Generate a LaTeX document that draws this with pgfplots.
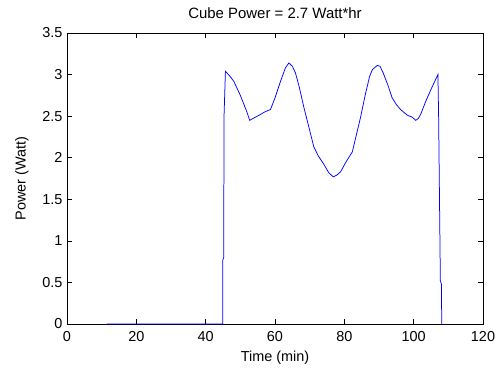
\documentclass[border=0pt]{standalone}
\usepackage{fontspec}
\setmainfont{Liberation Sans}
\usepackage{pgfplots}
\usetikzlibrary{calc}
\pgfplotsset{compat=1.18}
\begin{document}
\begin{tikzpicture}
\begin{axis}[name=ax,
  scale only axis, width=416bp, height=291bp,
  xmin=0, xmax=120, ymin=0, ymax=3.5,
  xtick={0,20,...,120}, ytick={0,0.5,...,3.5},
  tick align=inside, major tick length=5bp,
  tick style={black, line width=0.6pt},
  axis line style={black, line width=0.6pt},
  /pgf/number format/assume math mode=true,
  tick label style={font=\fontsize{14.5}{17}\selectfont},
  label style={font=\fontsize{14.5}{17}\selectfont},
  title style={font=\fontsize{15}{17}\selectfont, at={(rel axis cs:0.5,1)}, anchor=center, yshift=14bp},
  title={Cube Power = 2.7 Watt*hr},
  xlabel={Time (min)}, ylabel={Power (Watt)},
  xticklabel style={yshift=-4bp},
  yticklabel style={xshift=-1bp},
  xlabel style={at={(rel axis cs:0.5,0)}, anchor=center, yshift=-34bp},
  ylabel style={at={($(rel axis cs:0,0.5)+(-45bp,0)$)}, anchor=center},
]
\addplot[blue, line width=0.75pt, mark=none] coordinates {
(11.5,0) (44.9,0) (44.95,0.77) (45.2,0.8) (45.3,2.5) (45.7,3.04) (47,2.98) (48.1,2.92) (50,2.75) (51.9,2.55) (52.7,2.45) (54,2.48) (55.8,2.52) (57,2.55) (58.7,2.58) (60,2.72) (61.6,2.92) (63,3.08) (64,3.14) (65,3.1) (65.9,3.02) (67,2.85) (68.3,2.61) (69.7,2.38) (71.2,2.13) (72.5,2.02) (74.1,1.92) (75.5,1.82) (76.8,1.77) (77.8,1.79) (78.9,1.83) (80.5,1.95) (82.3,2.07) (83.5,2.28) (84.7,2.49) (86,2.75) (87.3,2.98) (88.1,3.06) (89.5,3.11) (90.3,3.1) (91.2,3.02) (92.5,2.88) (93.8,2.72) (95,2.64) (96.2,2.58) (98.2,2.51) (99.5,2.49) (100.6,2.45) (101.3,2.47) (102,2.52) (103.5,2.68) (105.2,2.84) (107.0,3.00) (107.2,2.49) (107.7,0.52) (108.0,0.48) (108.1,0)
};
\end{axis}
\pgfresetboundingbox
\path ([shift={(-67bp,-44bp)}]ax.south west) rectangle ([shift={(14bp,33bp)}]ax.north east);
\end{tikzpicture}
\end{document}
